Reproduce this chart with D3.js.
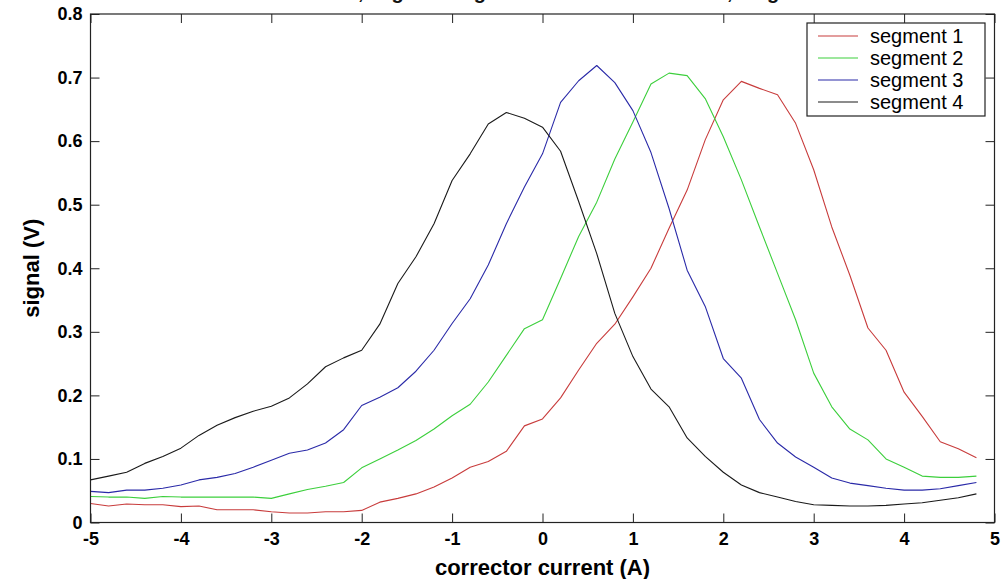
<!DOCTYPE html>
<html>
<head>
<meta charset="utf-8">
<script src="https://cdn.jsdelivr.net/npm/d3@7"></script>
<style>
  html, body { margin: 0; padding: 0; background: #fff; }
  svg { display: block; }
  text { font-family: "Liberation Sans", Arial, sans-serif; }
</style>
</head>
<body>
<svg id="chart" width="1006" height="579"></svg>
<script>
// ---- data ----
const current = [-5, -4.8, -4.6, -4.4, -4.2, -4, -3.8, -3.6, -3.4, -3.2,
                 -3, -2.8, -2.6, -2.4, -2.2, -2, -1.8, -1.6, -1.4, -1.2,
                 -1, -0.8, -0.6, -0.4, -0.2, 0, 0.2, 0.4, 0.6, 0.8,
                 1, 1.2, 1.4, 1.6, 1.8, 2, 2.2, 2.4, 2.6, 2.8,
                 3, 3.2, 3.4, 3.6, 3.8, 4, 4.2, 4.4, 4.6, 4.8];

const segment1 = [0.030, 0.026, 0.029, 0.028, 0.028, 0.025, 0.026, 0.020, 0.020, 0.020,
                  0.017, 0.015, 0.015, 0.017, 0.017, 0.019, 0.032, 0.038, 0.045, 0.056,
                  0.070, 0.087, 0.096, 0.112, 0.152, 0.163, 0.196, 0.240, 0.282, 0.312,
                  0.355, 0.400, 0.463, 0.523, 0.602, 0.665, 0.694, 0.683, 0.673, 0.628,
                  0.555, 0.465, 0.389, 0.306, 0.271, 0.205, 0.167, 0.127, 0.116, 0.102];

const segment2 = [0.041, 0.040, 0.040, 0.038, 0.041, 0.040, 0.040, 0.040, 0.040, 0.040,
                  0.038, 0.045, 0.052, 0.057, 0.063, 0.086, 0.100, 0.114, 0.129, 0.147,
                  0.168, 0.186, 0.221, 0.263, 0.305, 0.319, 0.384, 0.450, 0.504, 0.572,
                  0.630, 0.690, 0.707, 0.703, 0.667, 0.607, 0.539, 0.465, 0.392, 0.319,
                  0.235, 0.182, 0.147, 0.130, 0.100, 0.087, 0.073, 0.071, 0.071, 0.073];

const segment3 = [0.049, 0.047, 0.051, 0.051, 0.054, 0.059, 0.067, 0.071, 0.077, 0.087,
                  0.098, 0.109, 0.114, 0.125, 0.146, 0.184, 0.197, 0.212, 0.238, 0.271,
                  0.313, 0.352, 0.405, 0.470, 0.528, 0.580, 0.661, 0.695, 0.719, 0.692,
                  0.648, 0.582, 0.494, 0.397, 0.340, 0.258, 0.227, 0.162, 0.125, 0.103,
                  0.087, 0.070, 0.062, 0.058, 0.054, 0.051, 0.051, 0.053, 0.058, 0.063];

const segment4 = [0.067, 0.073, 0.079, 0.093, 0.104, 0.117, 0.137, 0.153, 0.165, 0.175,
                  0.183, 0.196, 0.218, 0.245, 0.259, 0.271, 0.312, 0.376, 0.418, 0.470,
                  0.538, 0.580, 0.627, 0.645, 0.636, 0.622, 0.584, 0.505, 0.423, 0.329,
                  0.261, 0.210, 0.182, 0.133, 0.104, 0.079, 0.059, 0.047, 0.040, 0.033,
                  0.028, 0.027, 0.026, 0.026, 0.027, 0.029, 0.031, 0.035, 0.039, 0.045];

const seriesNames = ["segment 1", "segment 2", "segment 3", "segment 4"];
const seriesColors = ["#c83c3c", "#3ccf3c", "#2a2aa8", "#1a1a1a"];
const xTicks = [-5, -4, -3, -2, -1, 0, 1, 2, 3, 4, 5];
const xTickLabels = ["-5", "-4", "-3", "-2", "-1", "0", "1", "2", "3", "4", "5"];
const yTicks = [0, 0.1, 0.2, 0.3, 0.4, 0.5, 0.6, 0.7, 0.8];
const yTickLabels = ["0", "0.1", "0.2", "0.3", "0.4", "0.5", "0.6", "0.7", "0.8"];
const titleText = "Scan 1, segment signals vs. corrector current, magnet H3";
const xLabel = "corrector current (A)";
const yLabel = "signal (V)";

// ---- layout ----
const svg = d3.select("#chart");
const L = 90.5, R = 994.5, T = 14, B = 522.5;
const x = d3.scaleLinear().domain([-5, 5]).range([L, R]);
const y = d3.scaleLinear().domain([0, 0.8]).range([B, T]);
const frameColor = "#222";

const allSeries = [segment1, segment2, segment3, segment4].map((vals, i) => ({
  name: seriesNames[i], color: seriesColors[i],
  points: current.map((c, j) => [c, vals[j]])
}));

// title (mostly cut off at the top, as in the reference)
svg.append("text")
  .attr("x", 567).attr("y", -1)
  .attr("text-anchor", "middle")
  .style("font-size", "20px").style("font-weight", "bold")
  .attr("fill", "#111")
  .text(titleText);

// lines
const line = d3.line().x(d => x(d[0])).y(d => y(d[1]));
svg.append("defs").append("clipPath").attr("id", "clip")
  .append("rect").attr("x", L).attr("y", T).attr("width", R - L).attr("height", B - T);
svg.append("g").attr("clip-path", "url(#clip)")
  .selectAll("path").data(allSeries).join("path")
  .attr("d", d => line(d.points))
  .attr("fill", "none")
  .attr("stroke", d => d.color)
  .attr("stroke-width", 1.1)
  .attr("stroke-linejoin", "round");

// axes
function styleAxis(g) {
  g.selectAll(".domain").remove();
  g.selectAll(".tick line").attr("stroke", frameColor).attr("stroke-width", 1);
  g.selectAll(".tick text")
    .attr("fill", "#000")
    .style("font-family", "'Liberation Sans', Arial, sans-serif")
    .style("font-size", "18px").style("font-weight", "bold");
}
svg.append("g").attr("transform", `translate(0,${B})`)
  .call(d3.axisBottom(x).tickValues(xTicks).tickSize(-9).tickSizeOuter(0).tickPadding(10)
        .tickFormat((d, i) => xTickLabels[i]))
  .call(styleAxis);
svg.append("g").attr("transform", `translate(0,${T})`)
  .call(d3.axisTop(x).tickValues(xTicks).tickSize(-9).tickSizeOuter(0).tickFormat(""))
  .call(styleAxis);
svg.append("g").attr("transform", `translate(${L},0)`)
  .call(d3.axisLeft(y).tickValues(yTicks).tickSize(-9).tickSizeOuter(0).tickPadding(8)
        .tickFormat((d, i) => yTickLabels[i]))
  .call(styleAxis);
svg.append("g").attr("transform", `translate(${R},0)`)
  .call(d3.axisRight(y).tickValues(yTicks).tickSize(-9).tickSizeOuter(0).tickFormat(""))
  .call(styleAxis);

// frame
svg.append("rect")
  .attr("x", L).attr("y", T).attr("width", R - L).attr("height", B - T)
  .attr("fill", "none").attr("stroke", frameColor).attr("stroke-width", 1.2);

// axis labels
svg.append("text")
  .attr("x", (L + R) / 2).attr("y", 575)
  .attr("text-anchor", "middle")
  .style("font-size", "22px").style("font-weight", "bold")
  .text(xLabel);
svg.append("text")
  .attr("transform", `translate(39,${(T + B) / 2}) rotate(-90)`)
  .attr("text-anchor", "middle")
  .style("font-size", "22px").style("font-weight", "bold")
  .text(yLabel);

// legend
const lg = svg.append("g");
lg.append("rect")
  .attr("x", 807).attr("y", 23).attr("width", 178).attr("height", 93)
  .attr("fill", "#fff").attr("stroke", frameColor).attr("stroke-width", 1.2);
const rows = lg.selectAll("g.row").data(allSeries).join("g")
  .attr("class", "row")
  .attr("transform", (d, i) => `translate(0,${36 + i * 22})`);
rows.append("line")
  .attr("x1", 818).attr("x2", 858).attr("y1", 0).attr("y2", 0)
  .attr("stroke", d => d.color).attr("stroke-width", 1.1);
rows.append("text")
  .attr("x", 870).attr("y", 0).attr("dy", "0.35em")
  .style("font-size", "20px")
  .attr("fill", "#000")
  .text(d => d.name);
</script>
</body>
</html>
